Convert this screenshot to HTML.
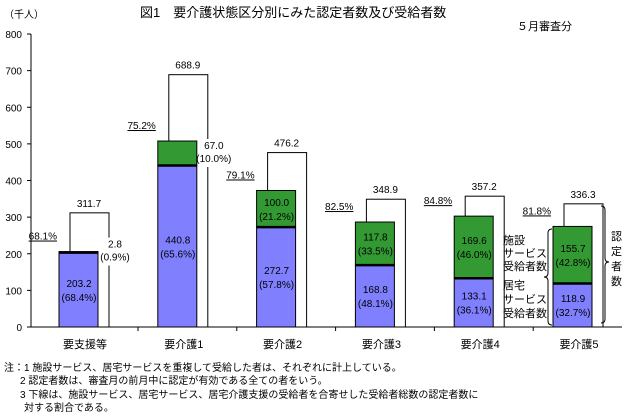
<!DOCTYPE html>
<html><head><meta charset="utf-8"><style>
body{margin:0;background:#fff}
svg{display:block;font-family:"Liberation Sans","Noto Sans CJK JP",sans-serif}
</style></head><body>
<svg id="c" width="628" height="417" viewBox="0 0 628 417">
<text x="140" y="17" font-size="13">図1　要介護状態区分別にみた認定者数及び受給者数</text>
<text x="517" y="30" font-size="11">５月審査分</text>
<text x="4" y="18" font-size="10">（千人）</text>
<g id="axes"></g><g id="bars"></g>
<g fill="none" stroke="#000" stroke-width="1">
<path d="M552,229 q-4,0 -4,4 v40 q0,4 -4,4 q4,0 4,4 v40 q0,4 4,4"/>
<path d="M601,206 q4,0 4,4 v48 q0,4 4,4 q-4,0 -4,4 v53 q0,4 -4,4"/>
</g>
<g font-size="11">
<text x="503" y="244">施設</text><text x="503" y="257">サービス</text><text x="503" y="270">受給者数</text>
<text x="503" y="289">居宅</text><text x="503" y="303">サービス</text><text x="503" y="317">受給者数</text>
<text x="611" y="240">認</text><text x="611" y="255">定</text><text x="611" y="270">者</text><text x="611" y="285">数</text>
</g>
<g font-size="10">
<text x="4" y="371">注：1 施設サービス、居宅サービスを重複して受給した者は、それぞれに計上している。</text>
<text x="20" y="384">2 認定者数は、審査月の前月中に認定が有効である全ての者をいう。</text>
<text x="20" y="398">3 下線は、施設サービス、居宅サービス、居宅介護支援の受給者を合寄せした受給者総数の認定者数に</text>
<text x="24" y="411">対する割合である。</text>
</g>
</svg>
<script>
const categories=["要支援等","要介護1","要介護2","要介護3","要介護4","要介護5"];
const homeVals=[203.2,440.8,272.7,168.8,133.1,118.9];
const homePct=["68.4","65.6","57.8","48.1","36.1","32.7"];
const facVals=[2.8,67.0,100.0,117.8,169.6,155.7];
const facPct=["0.9","10.0","21.2","33.5","46.0","42.8"];
const certVals=[311.7,688.9,476.2,348.9,357.2,336.3];
const ratio=["68.1","75.2","79.1","82.5","84.8","81.8"];
const yTicks=[0,100,200,300,400,500,600,700,800];
const NS="http://www.w3.org/2000/svg";
const y=v=>327-v*(293/800);
const x=i=>59+i*98.8;
function mk(t,a,p,txt){const e=document.createElementNS(NS,t);for(const k in a)e.setAttribute(k,a[k]);if(txt!==undefined)e.textContent=txt;p.appendChild(e);return e;}
const ax=document.getElementById('axes'),bg=document.getElementById('bars');
let e=mk('line',{x1:31,y1:y(800),x2:31,y2:327,stroke:'#000'},ax);

e=mk('line',{x1:31,y1:327,x2:622,y2:327,stroke:'#000'},ax);

yTicks.forEach(v=>{
 mk('line',{x1:27,y1:y(v),x2:31,y2:y(v),stroke:'#000'},ax);
 e=mk('text',{x:22,y:y(v)+4,'font-size':10,'text-anchor':'end'},ax,v);
 
});
categories.forEach((c,i)=>{
 const bx=x(i),ox=bx+11;
 mk('line',{x1:bx+79,y1:327,x2:bx+79,y2:331,stroke:'#000'},ax);
 e=mk('text',{x:bx+26,y:348,'font-size':11,'text-anchor':'middle'},ax,c);
 
 e=mk('rect',{x:ox,y:y(certVals[i]),width:39,height:327-y(certVals[i]),fill:'#fff',stroke:'#000'},bg);
 
 mk('text',{x:ox+19,y:y(certVals[i])-6,'font-size':10,'text-anchor':'middle'},bg,certVals[i].toFixed(1));
 const t=homeVals[i]+facVals[i];
 e=mk('rect',{x:bx,y:y(t),width:39,height:y(homeVals[i])-y(t),fill:'#339933',stroke:'#000'},bg);
 
 e=mk('rect',{x:bx,y:y(homeVals[i]),width:39,height:327-y(homeVals[i]),fill:'#8080ff',stroke:'#000'},bg);
 
 mk('line',{x1:bx,y1:y(homeVals[i]),x2:bx+39,y2:y(homeVals[i]),stroke:'#000','stroke-width':2.5},bg);
 const hm=(y(homeVals[i])+327)/2;
 mk('text',{x:bx+20,y:hm-3,'font-size':10,'text-anchor':'middle'},bg,homeVals[i].toFixed(1));
 mk('text',{x:bx+20,y:hm+11,'font-size':10,'text-anchor':'middle'},bg,'('+homePct[i]+'%)');
 if(i<2){
  const ly=i==0?y(t)-4:y(t)+8;
  mk('rect',{x:bx+41,y:ly-10,width:30,height:28,fill:'#fff'},bg);
  mk('text',{x:bx+56,y:ly,'font-size':10,'text-anchor':'middle'},bg,facVals[i].toFixed(1));
  mk('text',{x:bx+56,y:ly+13,'font-size':10,'text-anchor':'middle'},bg,'('+facPct[i]+'%)');
 } else {
  const fm=(y(t)+y(homeVals[i]))/2;
  mk('text',{x:bx+20,y:fm-3,'font-size':10,'text-anchor':'middle'},bg,facVals[i].toFixed(1));
  mk('text',{x:bx+20,y:fm+11,'font-size':10,'text-anchor':'middle'},bg,'('+facPct[i]+'%)');
 }
 e=mk('text',{x:bx-2,y:y(t)-12,'font-size':10,'text-anchor':'end','text-decoration':'underline'},bg,ratio[i]+'%');
 
});
</script>
</body></html>
